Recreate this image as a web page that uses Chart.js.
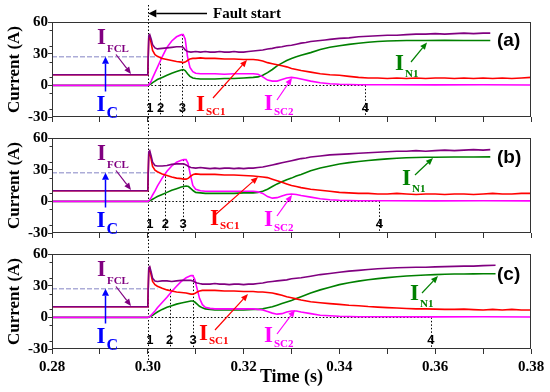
<!DOCTYPE html>
<html><head><meta charset="utf-8">
<script src="https://cdn.jsdelivr.net/npm/chart.js@4.4.1/dist/chart.umd.min.js"></script>
<style>
html,body{margin:0;padding:0;background:#fff;}
#wrap{position:relative;width:550px;height:392px;overflow:hidden;background:#fff;}
#wrap canvas{position:absolute;left:0;top:0;}
</style></head><body>
<div id="wrap">
<canvas id="ca" width="550" height="392"></canvas>
<canvas id="cb" width="550" height="392"></canvas>
<canvas id="cc" width="550" height="392"></canvas>
</div>
<script>
// ---------------- DATA (time in s, current in A) ----------------
const xTickLabels = ['0.28','0.30','0.32','0.34','0.36','0.38'];
const yTickValues = [-30,-15,0,15,30,45,60];
const criticalCurrent = 27;          // I_C level
const faultStart = 0.30;
const icLevelSpan = [0.28, 0.302];

// Panel (a)
const fclA = [[0.28,10],[0.3,10],[0.3002,47],[0.3004,48],[0.3007,44],[0.301,38.5],[0.3015,35.5],[0.302,34.5],[0.303,35],[0.304,35.5],[0.305,36],[0.306,36.5],[0.307,36.5],[0.3074,36],[0.3078,33.5],[0.3083,32],[0.309,31.5],[0.31,32],[0.311,31.5],[0.312,32],[0.313,31.5],[0.314,31.5],[0.315,32],[0.316,31.5],[0.317,31.5],[0.318,32],[0.319,31.5],[0.32,31.5],[0.321,32],[0.322,32.5],[0.323,33],[0.324,33.5],[0.325,34.5],[0.326,35],[0.327,36],[0.328,36.5],[0.329,37.5],[0.33,38],[0.331,39],[0.332,40],[0.333,40.5],[0.334,41.5],[0.335,42],[0.336,42.5],[0.337,43],[0.338,43.5],[0.339,44],[0.34,44.5],[0.342,45],[0.344,46],[0.346,46.5],[0.348,47],[0.35,47.5],[0.352,47.5],[0.354,48],[0.356,48.5],[0.358,48.5],[0.36,49],[0.362,48.5],[0.364,49],[0.366,49.5],[0.368,49],[0.37,49.5],[0.3715,49.5]];
const sc1A = [[0.28,10],[0.3,10],[0.3002,45],[0.3004,46],[0.3007,40],[0.301,33],[0.3015,29],[0.302,27.5],[0.303,25.5],[0.304,24.5],[0.305,23.5],[0.306,22.5],[0.307,22],[0.3074,21.5],[0.3078,22],[0.3083,23.5],[0.3088,25],[0.3094,25.5],[0.31,25.5],[0.311,26],[0.312,25.5],[0.314,25.5],[0.316,25],[0.318,25],[0.32,24.5],[0.322,24.5],[0.323,24],[0.324,23],[0.325,21.5],[0.326,20.5],[0.327,19.5],[0.328,18.5],[0.329,17.5],[0.33,16],[0.331,15],[0.332,14],[0.334,12.5],[0.336,11],[0.338,10],[0.34,9.5],[0.342,8.5],[0.344,7.5],[0.346,7],[0.348,7],[0.35,6.5],[0.352,7],[0.354,6.5],[0.356,7],[0.358,6.5],[0.36,7],[0.362,7],[0.364,6.5],[0.366,7],[0.368,6.5],[0.37,7],[0.372,6.5],[0.374,7],[0.376,6.5],[0.378,7],[0.38,7.5]];
const sc2A = [[0.28,0],[0.3,0],[0.3002,0.5],[0.3004,1.5],[0.3007,4],[0.301,7],[0.3015,12],[0.302,17],[0.303,27],[0.304,36],[0.305,42],[0.306,46],[0.307,48],[0.3074,48],[0.3078,44],[0.3083,27],[0.3088,17],[0.3094,13],[0.31,11.5],[0.311,11],[0.312,11],[0.314,11],[0.316,10.5],[0.318,11],[0.32,11],[0.322,11],[0.323,10.5],[0.324,8],[0.325,5],[0.326,4],[0.327,4],[0.328,5.5],[0.329,7],[0.33,7.5],[0.331,7],[0.332,6],[0.334,4],[0.336,2.5],[0.338,1.5],[0.34,1],[0.344,0.6],[0.35,0.5],[0.36,0.4],[0.37,0.5],[0.38,0.3]];
const n1A = [[0.28,0],[0.3,0],[0.3002,0.3],[0.3004,0.8],[0.3007,1.5],[0.301,2.5],[0.3015,4],[0.302,5.5],[0.303,7.5],[0.304,9.5],[0.305,11.5],[0.306,13],[0.307,14.5],[0.3074,15],[0.3078,14],[0.3083,11],[0.3088,8.5],[0.3094,7],[0.31,6.5],[0.311,6],[0.312,6],[0.314,6],[0.316,6.5],[0.318,6.5],[0.32,7],[0.322,7.5],[0.323,8],[0.324,9.5],[0.325,12],[0.326,15],[0.327,18.5],[0.328,21],[0.329,23.5],[0.33,25.5],[0.331,27],[0.332,28.5],[0.334,31],[0.336,34],[0.338,36],[0.34,37.5],[0.342,38.8],[0.344,39.8],[0.346,40.8],[0.348,41.5],[0.35,42],[0.352,42.3],[0.354,42.5],[0.358,42.5],[0.362,42.6],[0.366,42.5],[0.3715,42.5]];
const markersA = [0.3, 0.30265, 0.30722, 0.34542];

// Panel (b)
const fclB = [[0.28,10],[0.3,10],[0.3002,47],[0.3004,48],[0.3007,43],[0.301,37],[0.3015,34],[0.302,33.5],[0.303,33.5],[0.304,34],[0.305,35],[0.306,35.5],[0.307,35.5],[0.3075,35.5],[0.308,34.5],[0.3085,33],[0.309,32],[0.31,31.5],[0.311,32],[0.312,31.5],[0.313,31],[0.314,31.5],[0.315,31],[0.316,31.5],[0.317,31.5],[0.318,31],[0.319,31.5],[0.32,31],[0.321,31.5],[0.322,31.5],[0.323,32],[0.324,32.5],[0.325,33.5],[0.326,34.5],[0.327,35.5],[0.328,36.5],[0.329,37.5],[0.33,38.5],[0.331,39.5],[0.332,40.5],[0.333,41],[0.334,42],[0.336,43],[0.338,44],[0.34,44.5],[0.342,45],[0.344,45.5],[0.346,46],[0.348,46.5],[0.35,47],[0.352,47.5],[0.354,47.5],[0.356,48],[0.358,47.5],[0.36,48],[0.362,48.5],[0.364,48],[0.366,48.5],[0.368,49],[0.37,48.5],[0.3715,49]];
const sc1B = [[0.28,10],[0.3,10],[0.3002,45],[0.3004,46],[0.3007,40],[0.301,33],[0.3015,29.5],[0.302,28],[0.303,26],[0.304,24.5],[0.305,23],[0.306,22],[0.307,21.5],[0.3075,21],[0.308,21],[0.3085,22],[0.309,24],[0.3095,25.5],[0.31,26],[0.311,25.5],[0.312,25.5],[0.314,25.5],[0.316,25],[0.318,25],[0.32,24.5],[0.322,24],[0.323,23.5],[0.324,23],[0.325,22.5],[0.326,21],[0.327,19.5],[0.328,18],[0.329,16.5],[0.33,15],[0.331,14],[0.332,13],[0.334,11.5],[0.336,10.5],[0.338,9.5],[0.34,8.5],[0.342,8],[0.344,7.5],[0.346,7.5],[0.348,7],[0.35,7],[0.352,7.5],[0.354,7],[0.356,6.5],[0.358,7],[0.36,7],[0.362,6.5],[0.364,7],[0.366,7],[0.368,6.5],[0.37,7],[0.372,7.5],[0.374,7],[0.376,7],[0.378,7.5],[0.38,7.5]];
const sc2B = [[0.28,0],[0.3,0],[0.3002,0.5],[0.3004,1.5],[0.3007,3.5],[0.301,6],[0.3015,10],[0.302,14.5],[0.303,22],[0.304,28.5],[0.305,33.5],[0.306,37],[0.307,39],[0.3075,39.5],[0.308,39.5],[0.3084,36],[0.3088,27],[0.3094,15],[0.31,11.5],[0.311,10],[0.312,9.5],[0.314,9.5],[0.316,9.5],[0.318,9.5],[0.32,9.5],[0.322,9.5],[0.323,9],[0.324,7.5],[0.325,4.5],[0.326,3],[0.327,3.5],[0.328,5],[0.329,6.5],[0.33,7],[0.331,6.5],[0.332,5.5],[0.334,4],[0.336,2.5],[0.338,1.5],[0.34,1],[0.344,0.6],[0.35,0.5],[0.36,0.4],[0.37,0.5],[0.38,0.4]];
const n1B = [[0.28,0],[0.3,0],[0.3002,0.2],[0.3004,0.6],[0.3007,1.2],[0.301,2],[0.3015,3.3],[0.302,4.5],[0.303,6.5],[0.304,8.5],[0.305,10.5],[0.306,12],[0.307,13.5],[0.3075,14],[0.308,14.5],[0.3085,14],[0.309,12],[0.3095,10],[0.31,8.5],[0.311,8],[0.312,7.5],[0.314,7.5],[0.316,7.5],[0.318,7.5],[0.32,8],[0.322,8],[0.323,8.5],[0.324,9.5],[0.325,11.5],[0.326,14],[0.327,16.5],[0.328,18.5],[0.329,20.5],[0.33,22],[0.331,24],[0.332,25.5],[0.334,29],[0.336,31.5],[0.338,33.5],[0.34,35.3],[0.342,36.7],[0.344,37.8],[0.346,38.7],[0.348,39.5],[0.35,40.2],[0.352,40.8],[0.354,41.3],[0.356,41.5],[0.358,41.7],[0.36,41.8],[0.364,42],[0.368,42],[0.3715,42.1]];
const markersB = [0.3, 0.30369, 0.30736, 0.34833];

// Panel (c)
const fclC = [[0.28,10],[0.3,10],[0.3002,47],[0.3004,48],[0.3007,43],[0.301,37],[0.3015,34.5],[0.302,34],[0.303,34.5],[0.304,34.5],[0.305,34],[0.306,34.5],[0.307,35],[0.308,35],[0.309,35],[0.3094,34.5],[0.3098,33.5],[0.3103,32.5],[0.3108,32],[0.3114,31.5],[0.312,31.5],[0.313,31.5],[0.314,32],[0.315,31.5],[0.316,31.5],[0.317,31],[0.318,31.5],[0.319,31.5],[0.32,31],[0.321,31.5],[0.322,31.5],[0.323,32],[0.324,32.5],[0.325,33.5],[0.326,34],[0.327,34.5],[0.328,35],[0.329,35.5],[0.33,36.5],[0.331,37],[0.332,37.5],[0.334,39],[0.336,40.5],[0.338,41.5],[0.34,42.7],[0.342,43.8],[0.344,44.5],[0.346,45.3],[0.348,46],[0.35,46.5],[0.352,47],[0.354,47.2],[0.356,47.5],[0.358,47.5],[0.36,47.8],[0.362,48],[0.364,48.3],[0.366,48.5],[0.368,48.5],[0.37,49],[0.3726,49.3]];
const sc1C = [[0.28,10],[0.3,10],[0.3002,45],[0.3004,46.5],[0.3007,40],[0.301,34],[0.3015,31],[0.302,29.5],[0.303,27.5],[0.304,26],[0.305,25],[0.306,24],[0.307,23.5],[0.308,23],[0.309,22],[0.3094,22],[0.3098,22.5],[0.3103,24],[0.3108,25],[0.3114,25.5],[0.312,25.5],[0.314,25.5],[0.316,25],[0.318,25],[0.32,24.5],[0.322,24.5],[0.323,24],[0.324,24],[0.325,23.5],[0.326,23],[0.327,22],[0.328,21],[0.329,19.5],[0.33,18.5],[0.331,17.5],[0.332,16.5],[0.334,14.8],[0.336,13.8],[0.338,13],[0.34,12.3],[0.342,11.5],[0.344,11],[0.346,10.2],[0.348,9.7],[0.35,9.2],[0.352,8.8],[0.354,8.4],[0.356,8],[0.358,8],[0.36,7.8],[0.362,7.5],[0.364,7.5],[0.366,7.8],[0.368,7.3],[0.37,7],[0.372,7.5],[0.374,7],[0.376,7.5],[0.378,7],[0.38,7]];
const sc2C = [[0.28,0],[0.3,0],[0.3002,0.3],[0.3004,0.8],[0.3007,2],[0.301,3.5],[0.3015,6],[0.302,9],[0.303,14],[0.304,19],[0.305,24.5],[0.306,29.5],[0.307,34],[0.308,37.5],[0.309,39.5],[0.3094,39.5],[0.3098,36],[0.3103,27],[0.3108,18],[0.3114,12],[0.312,9.5],[0.313,8.5],[0.314,8],[0.316,8],[0.318,8],[0.32,8],[0.322,8],[0.323,7.5],[0.324,7],[0.325,5.5],[0.326,4],[0.327,3],[0.328,3.5],[0.329,5],[0.33,6],[0.331,6],[0.332,5],[0.334,3.5],[0.336,2],[0.338,1.5],[0.34,1],[0.344,0.6],[0.35,0.5],[0.36,0.4],[0.37,0.5],[0.38,0.3]];
const n1C = [[0.28,0],[0.3,0],[0.3002,0.2],[0.3004,0.6],[0.3007,1.2],[0.301,2],[0.3015,3.5],[0.302,5],[0.303,7.5],[0.304,9.5],[0.305,11],[0.306,12.5],[0.307,13.5],[0.308,14.5],[0.309,15.5],[0.3094,15.5],[0.3098,14.5],[0.3103,12.5],[0.3108,10.5],[0.3114,9],[0.312,8],[0.313,7.5],[0.314,7],[0.316,7],[0.318,7],[0.32,7],[0.322,7.5],[0.323,7.5],[0.324,8],[0.325,9],[0.326,10],[0.327,11.5],[0.328,13],[0.329,14.5],[0.33,16],[0.331,17.8],[0.332,19.5],[0.334,23],[0.336,26],[0.338,28.5],[0.34,31],[0.342,32.8],[0.344,34.3],[0.346,35.6],[0.348,36.7],[0.35,37.6],[0.352,38.4],[0.354,39.1],[0.356,39.6],[0.358,40.1],[0.36,40.5],[0.362,40.8],[0.364,41],[0.366,41.1],[0.368,41.2],[0.37,41.3],[0.3726,41.3]];
const markersC = [0.3, 0.30458, 0.30944, 0.3591];

const panelTags = ['(a)','(b)','(c)'];
const markerNames = ['1','2','3','4'];

// ---------------- STYLE / LAYOUT ----------------
const COL = {fcl:'#800080', sc1:'#ff0000', sc2:'#ff00ff', n1:'#008000', ic:'#0000ff', icLine:'#8383c4', frame:'#333'};
const SERIF = '"Liberation Serif", "Times New Roman", serif';
const SANS = '"Liberation Sans", Arial, sans-serif';
const TOPS = [22, 138, 254];
const PH = 95;
const LAY = [
  {sc1:[196,89], sc1Arrow:[213,76,247,38], sc2Arrow:[277,78,292,56], n1:[395,48], n1Arrow:[411,40,427,20.5], tag:18.5},
  {sc1:[210,87], sc1Arrow:[215,77,258,39], sc2Arrow:[277,78,292,57], n1:[402,47], n1Arrow:[415,37,433,20], tag:19.5},
  {sc1:[199,86], sc1Arrow:[215,76,248,40], sc2Arrow:[277,80,295,56], n1:[410,46], n1Arrow:[422,39,438,22], tag:21}
];

const panels = [
  {fcl:fclA, sc1:sc1A, sc2:sc2A, n1:n1A, markers:markersA},
  {fcl:fclB, sc1:sc1B, sc2:sc2B, n1:n1B, markers:markersB},
  {fcl:fclC, sc1:sc1C, sc2:sc2C, n1:n1C, markers:markersC}
];

function toXY(arr){ return arr.map(([x,y]) => ({x, y})); }

function arrow(ctx, x1, y1, x2, y2, color, lw=1.2, head=7, half=3){
  ctx.save();
  ctx.setLineDash([]);
  ctx.strokeStyle = color; ctx.fillStyle = color; ctx.lineWidth = lw;
  const a = Math.atan2(y2-y1, x2-x1);
  const bx = x2 - head*Math.cos(a), by = y2 - head*Math.sin(a);
  ctx.beginPath(); ctx.moveTo(x1,y1); ctx.lineTo(bx,by); ctx.stroke();
  ctx.beginPath(); ctx.moveTo(x2,y2);
  ctx.lineTo(bx + half*Math.sin(a), by - half*Math.cos(a));
  ctx.lineTo(bx - half*Math.sin(a), by + half*Math.cos(a));
  ctx.closePath(); ctx.fill();
  ctx.restore();
}

function subLabel(ctx, x, y, main, sub, color, subDy, subSize){
  ctx.save();
  ctx.fillStyle = color; ctx.textAlign = 'left'; ctx.textBaseline = 'alphabetic';
  ctx.font = 'bold 23px ' + SERIF;
  ctx.fillText(main, x, y);
  const w = ctx.measureText(main).width;
  ctx.font = 'bold ' + subSize + 'px ' + SERIF;
  ctx.fillText(sub, x + w + 1, y + subDy);
  ctx.restore();
}

function makeDeco(p, idx){
  const L = LAY[idx];
  return {
    id: 'deco' + idx,
    beforeDatasetsDraw(chart){
      const ctx = chart.ctx, ca = chart.chartArea, xs = chart.scales.x, ys = chart.scales.y;
      ctx.save();
      ctx.strokeStyle = '#000'; ctx.lineWidth = 1; ctx.setLineDash([1.5, 2]);
      const m = p.markers;
      const y0 = Math.round(ys.getPixelForValue(0)) + 0.5;
      ctx.beginPath();
      ctx.moveTo(xs.getPixelForValue(m[0]), y0); ctx.lineTo(xs.getPixelForValue(m[3]), y0);
      const peak = Math.max(...p.sc2.map(d => d[1]));
      const vTops = [null, criticalCurrent, peak, 0];
      for (let i = 1; i < 4; i++){
        const xx = Math.round(xs.getPixelForValue(m[i])) + 0.5;
        ctx.moveTo(xx, ys.getPixelForValue(vTops[i])); ctx.lineTo(xx, ca.bottom);
      }
      ctx.stroke();
      if (idx === 0){
        const xf = Math.round(xs.getPixelForValue(faultStart)) + 0.5;
        ctx.beginPath(); ctx.moveTo(xf, 5); ctx.lineTo(xf, 360); ctx.stroke();
      }
      ctx.restore();
    },
    afterDatasetsDraw(chart){
      const ctx = chart.ctx, ca = chart.chartArea, xs = chart.scales.x, ys = chart.scales.y;
      const T = ca.top;
      ctx.save();
      // frame
      ctx.strokeStyle = COL.frame; ctx.lineWidth = 1; ctx.setLineDash([]);
      ctx.strokeRect(Math.round(ca.left)+0.5, Math.round(ca.top)+0.5, Math.round(ca.right-ca.left)-1, Math.round(ca.bottom-ca.top)-1);
      // minor y ticks
      ctx.beginPath();
      for (let k = 0; k < yTickValues.length-1; k++){
        const v = (yTickValues[k] + yTickValues[k+1]) / 2;
        const yy = Math.round(ys.getPixelForValue(v)) + 0.5;
        ctx.moveTo(ca.left - 2.5, yy); ctx.lineTo(ca.left, yy);
      }
      ctx.stroke();
      // marker numbers
      ctx.fillStyle = '#000'; ctx.font = 'bold 13px ' + SANS;
      ctx.textAlign = 'center'; ctx.textBaseline = 'middle';
      p.markers.forEach((t, i) => {
        const xx = xs.getPixelForValue(t) + (i === 0 ? 2 : 0);
        ctx.fillText(markerNames[i], xx, T + 86);
      });
      // panel tag
      ctx.font = 'bold 19px ' + SANS; ctx.textAlign = 'left'; ctx.textBaseline = 'middle';
      ctx.fillText(panelTags[idx], 497, T + L.tag);
      // labels
      subLabel(ctx, 97, T + 21.5, 'I', 'FCL', COL.fcl, 8.5, 11);
      arrow(ctx, 116, T + 32.5, 131, T + 52, COL.fcl);
      subLabel(ctx, 96.5, T + 89, 'I', 'C', COL.ic, 7, 16);
      const xc = Math.round(xs.getPixelForValue(0.291)) + 0.5;
      arrow(ctx, xc, T + 69.5, xc, ys.getPixelForValue(criticalCurrent), COL.ic, 1.5, 7, 3.5);
      subLabel(ctx, L.sc1[0], T + L.sc1[1], 'I', 'SC1', COL.sc1, 3.5, 11);
      arrow(ctx, L.sc1Arrow[0], T + L.sc1Arrow[1], L.sc1Arrow[2], T + L.sc1Arrow[3], COL.sc1);
      subLabel(ctx, 264, T + 88, 'I', 'SC2', COL.sc2, 4.5, 11);
      arrow(ctx, L.sc2Arrow[0], T + L.sc2Arrow[1], L.sc2Arrow[2], T + L.sc2Arrow[3], COL.sc2);
      subLabel(ctx, L.n1[0], T + L.n1[1], 'I', 'N1', COL.n1, 7, 11);
      arrow(ctx, L.n1Arrow[0], T + L.n1Arrow[1], L.n1Arrow[2], T + L.n1Arrow[3], COL.n1);
      if (idx === 0){
        const xf = xs.getPixelForValue(faultStart);
        arrow(ctx, 207, 13.5, xf + 0.5, 13.5, '#000', 1.3, 8, 4);
        ctx.fillStyle = '#000'; ctx.font = 'bold 15px ' + SERIF;
        ctx.textAlign = 'left'; ctx.textBaseline = 'alphabetic';
        ctx.fillText('Fault start', 213, 18);
      }
      ctx.restore();
    }
  };
}

function ds(label, arr, color){
  return {label, data: toXY(arr), borderColor: color, backgroundColor: color,
          borderWidth: 1.6, pointRadius: 0, tension: 0, fill: false};
}

function makeChart(id, p, idx){
  const top = TOPS[idx], bottom = top + PH;
  const last = idx === 2;
  const xh = last ? 39 : 8;
  return new Chart(document.getElementById(id), {
    type: 'line',
    data: {datasets: [
      ds('I_FCL', p.fcl, COL.fcl),
      ds('I_SC1', p.sc1, COL.sc1),
      ds('I_SC2', p.sc2, COL.sc2),
      ds('I_N1', p.n1, COL.n1),
      {label:'I_C', data: icLevelSpan.map(x => ({x, y: criticalCurrent})), borderColor: COL.icLine,
       borderDash:[5,2], borderWidth:1, pointRadius:0, fill:false}
    ]},
    options: {
      responsive: false, animation: false, events: [],
      layout: {padding: {top: top, bottom: 392 - bottom - xh, left: 0, right: 19}},
      plugins: {legend: {display: false}, tooltip: {enabled: false}},
      scales: {
        x: {
          type: 'linear', min: 0.28, max: 0.38,
          border: {display: false},
          grid: {drawOnChartArea: false, drawTicks: true, tickLength: 5, color: COL.frame},
          ticks: {
            stepSize: 0.01, autoSkip: false, maxRotation: 0, padding: 4, maxTicksLimit: 20,
            color: '#000', font: {family: SERIF, weight: 'bold', size: 15},
            callback: (v) => {
              if (!last) return '';
              const lab = (Math.round(v*100)/100).toFixed(2);
              return xTickLabels.includes(lab) ? lab : '';
            }
          },
          title: {display: last, text: 'Time (s)', color: '#000', padding: 0,
                  font: {family: SERIF, weight: 'bold', size: 18}},
          afterFit: (s) => { s.height = xh; }
        },
        y: {
          min: -30, max: 60,
          border: {display: false},
          grid: {drawOnChartArea: false, drawTicks: true, tickLength: 4, color: COL.frame},
          ticks: {stepSize: 15, padding: 0, color: '#000', font: {family: SERIF, weight: 'bold', size: 15}},
          title: {display: true, text: 'Current (A)', color: '#000', padding: {top: 4, bottom: 0},
                  font: {family: SERIF, weight: 'bold', size: 17}},
          afterFit: (s) => { s.width = 52; }
        }
      }
    },
    plugins: [makeDeco(p, idx)]
  });
}

makeChart('ca', panels[0], 0);
makeChart('cb', panels[1], 1);
makeChart('cc', panels[2], 2);
</script>
</body></html>
